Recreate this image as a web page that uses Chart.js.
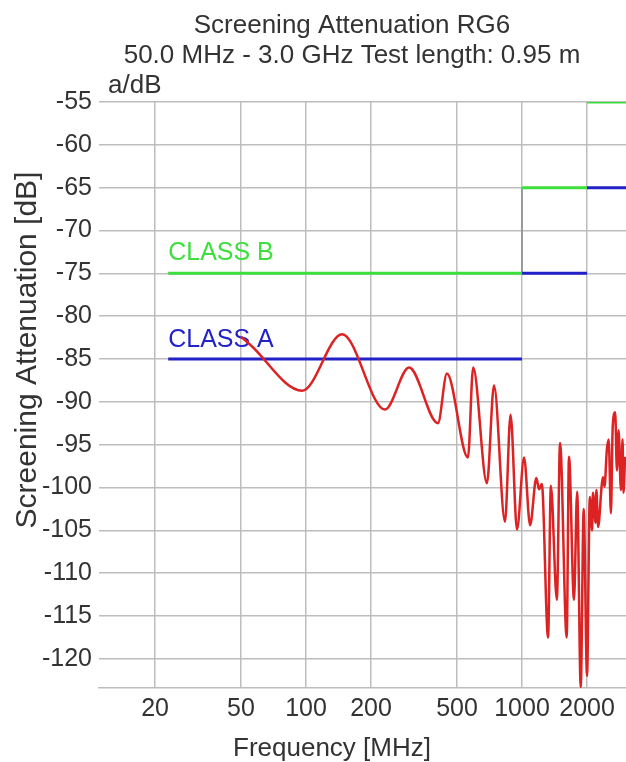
<!DOCTYPE html>
<html><head><meta charset="utf-8">
<script src="https://cdn.jsdelivr.net/npm/chart.js@4"></script>
<style>html,body{margin:0;padding:0;background:#fff;overflow:hidden}canvas{display:block}</style>
</head><body>
<canvas id="c" width="626" height="762"></canvas>
<script>
const chartTitle = 'Screening Attenuation RG6';
const chartSubtitle = '50.0 MHz - 3.0 GHz Test length: 0.95 m';
const unitLabel = 'a/dB';
const xAxisTitle = 'Frequency [MHz]';
const yAxisTitle = 'Screening Attenuation [dB]';
const xTicks = [20, 50, 100, 200, 500, 1000, 2000];
const yTicks = [-55, -60, -65, -70, -75, -80, -85, -90, -95, -100, -105, -110, -115, -120];

const freqMHz = [50, 55, 96, 147, 232, 300, 408, 449, 562, 594, 688, 742, 834, 885, 948, 1022, 1090, 1165, 1200, 1235, 1320, 1360, 1450, 1500, 1610, 1650, 1740, 1800, 1870, 1930, 2000, 2060, 2110, 2130, 2190, 2210, 2250, 2340, 2370, 2410, 2470, 2520, 2580, 2630, 2700, 2750, 2800, 2870, 2920, 2950, 3000];
const attenuationDb = [-82.4, -83.3, -88.7, -82.1, -90.9, -86.0, -92.5, -86.7, -96.5, -86.0, -99.5, -88.1, -104.0, -91.5, -104.9, -96.5, -104.4, -98.9, -100.2, -99.6, -117.5, -99.8, -113.1, -94.8, -117.5, -96.4, -113.1, -100.5, -123.3, -102.5, -122.0, -101.1, -105.0, -100.6, -104.1, -100.3, -104.6, -99.7, -98.8, -99.9, -95.6, -94.4, -103.0, -92.9, -91.2, -98.0, -93.3, -100.3, -94.4, -100.6, -96.4];

const limitStartMHz = [23, 1000, 2000];
const limitEndMHz = [1000, 2000, 3100];
const classBDb = [-75, -65, -55];
const classADb = [-85, -75, -65];
const classLabels = ['CLASS B', 'CLASS A'];
const connectorMHz = [1000];
const connectorFromDb = [-75];
const connectorToDb = [-65];

const FONT = '"Liberation Sans", Arial, sans-serif';
const TEXT = '#333333';
const GREEN = '#3ddf3d';
const BLUE = '#2222c8';
const RED = '#dc2222';

function segments(dbs) {
  const pts = [];
  dbs.forEach((db, i) => {
    pts.push({x: limitStartMHz[i], y: db});
    pts.push({x: limitEndMHz[i], y: db});
    pts.push({x: limitEndMHz[i], y: null});
  });
  return pts;
}
const curve = freqMHz.map((f, i) => ({x: f, y: attenuationDb[i]}));
const connectors = [];
connectorMHz.forEach((f, i) => {
  connectors.push({x: f, y: connectorFromDb[i]}, {x: f, y: connectorToDb[i]}, {x: f, y: null});
});

const textPlugin = {
  id: 'texts',
  beforeDatasetsDraw(chart) {
    const ctx = chart.ctx, xs = chart.scales.x, ys = chart.scales.y;
    ctx.save();
    ctx.font = '25px ' + FONT;
    ctx.textAlign = 'left';
    ctx.textBaseline = 'alphabetic';
    ctx.fillStyle = GREEN;
    ctx.fillText(classLabels[0], xs.getPixelForValue(limitStartMHz[0]), ys.getPixelForValue(classBDb[0]) - 13);
    ctx.fillStyle = BLUE;
    ctx.fillText(classLabels[1], xs.getPixelForValue(limitStartMHz[0]), ys.getPixelForValue(classADb[0]) - 12);
    ctx.restore();
  },
  afterDraw(chart) {
    const ctx = chart.ctx;
    ctx.save();
    ctx.fillStyle = TEXT;
    ctx.font = '26px ' + FONT;
    ctx.textAlign = 'center';
    ctx.textBaseline = 'alphabetic';
    ctx.fillText(chartTitle, 352, 33);
    ctx.fillText(chartSubtitle, 352, 63);
    ctx.fillText(xAxisTitle, 332, 756);
    ctx.textAlign = 'left';
    ctx.fillText(unitLabel, 108, 93);
    ctx.font = '30px ' + FONT;
    ctx.translate(36, 350);
    ctx.rotate(-Math.PI / 2);
    ctx.textAlign = 'center';
    ctx.fillText(yAxisTitle, 0, 0);
    ctx.restore();
  }
};

new Chart(document.getElementById('c'), {
  type: 'line',
  data: {
    datasets: [
      {label: 'Measured', data: curve, borderColor: RED, borderWidth: 2.5, pointRadius: 0, cubicInterpolationMode: 'monotone', spanGaps: false},
      {label: 'Class A', data: segments(classADb), borderColor: BLUE, borderWidth: 3, pointRadius: 0, spanGaps: false},
      {label: 'Class B', data: segments(classBDb), borderColor: GREEN, borderWidth: 3, pointRadius: 0, spanGaps: false},
      {label: 'Step', data: connectors, borderColor: '#8a8a8a', borderWidth: 1.5, pointRadius: 0, spanGaps: false}
    ]
  },
  options: {
    responsive: false,
    animation: false,
    devicePixelRatio: 1,
    layout: {padding: {top: 102, left: 0, right: 0, bottom: 0}},
    plugins: {legend: {display: false}, title: {display: false}, tooltip: {enabled: false}},
    scales: {
      x: {
        type: 'logarithmic',
        min: 11,
        max: 3030,
        afterBuildTicks: s => { s.ticks = xTicks.map(v => ({value: v})); },
        afterFit: s => { s.height = 74; },
        ticks: {color: TEXT, font: {family: FONT, size: 25}, padding: 6, maxRotation: 0, autoSkip: false, callback: v => String(v)},
        grid: {color: '#bdbdbd', lineWidth: 1.5, drawTicks: false},
        border: {display: true, color: '#bdbdbd', width: 1.5}
      },
      y: {
        type: 'linear',
        min: -123.4,
        max: -55,
        afterBuildTicks: s => { s.ticks = yTicks.map(v => ({value: v})); },
        afterFit: s => { s.width = 99; },
        ticks: {color: TEXT, font: {family: FONT, size: 25}, padding: 7, callback: v => String(v)},
        grid: {color: '#bdbdbd', lineWidth: 1.5, drawTicks: false},
        border: {display: false}
      }
    }
  },
  plugins: [textPlugin]
});
</script>
</body></html>
